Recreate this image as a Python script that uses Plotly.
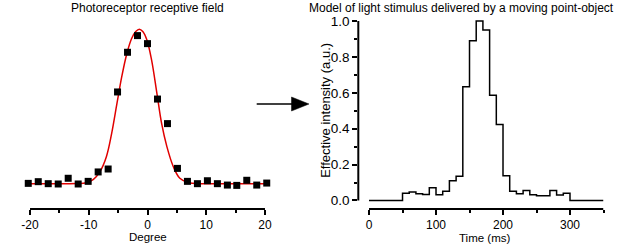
import plotly.graph_objects as go

# ---------------- data ----------------
# Left panel: photoreceptor receptive field (normalised response)
rf_degree = [-20.3, -18.6, -16.9, -15.2, -13.5, -11.8, -10.1, -8.4, -6.7, -5.1,
             -3.4, -1.7, 0.0, 1.7, 3.4, 5.1, 6.8, 8.5, 10.2, 11.9,
             13.6, 15.2, 16.9, 18.6, 20.3]
rf_response = [0.002, 0.013, 0.0, -0.002, 0.035, -0.002, 0.015, 0.076, 0.095, 0.594,
               0.851, 0.959, 0.907, 0.548, 0.389, 0.099, 0.015, 0.0, 0.019, 0.0,
               -0.009, -0.011, 0.022, -0.009, 0.004]

fit_degree = [-20.5, -15.0, -12.0, -10.4, -9.2, -8.1, -7.0, -6.1, -5.2, -4.4,
              -3.5, -2.7, -2.0, -1.4, -0.8, -0.1, 0.7, 1.6, 2.4, 3.3,
              4.4, 5.5, 7.0, 9.0, 13.0, 20.5]
fit_response = [0.0, 0.0, 0.001, 0.006, 0.028, 0.078, 0.175, 0.326, 0.52, 0.69,
                0.845, 0.94, 0.985, 1.0, 0.985, 0.93, 0.80, 0.585, 0.39, 0.24,
                0.11, 0.035, 0.006, 0.0, 0.0, 0.0]

# Right panel: modelled light stimulus (step function, bin starts in ms)
time_ms = [0, 50, 60, 70, 80, 90, 100, 110, 120, 130, 140, 150, 160, 170, 180,
           190, 200, 210, 220, 230, 240, 250, 260, 270, 280, 290, 300, 350]
intensity = [0.0, 0.040, 0.047, 0.038, 0.034, 0.071, 0.032, 0.051, 0.110, 0.135,
             0.634, 0.890, 1.000, 0.950, 0.586, 0.424, 0.138, 0.051, 0.038, 0.055,
             0.032, 0.027, 0.027, 0.055, 0.031, 0.040, 0.0, 0.0]

left_ticks = [-20, -10, 0, 10, 20]
left_minor = [-15, -5, 5, 15]
right_xticks = [0, 100, 200, 300]
right_xminor = [50, 150, 250, 350]
right_yticks = [0.0, 0.2, 0.4, 0.6, 0.8, 1.0]
right_yminor = [0.1, 0.3, 0.5, 0.7, 0.9]

# ---------------- layout helpers ----------------
W, H = 617, 247
FONT = "Liberation Sans, Arial, sans-serif"


def px(x):
    return x / W


def py(y):
    return 1 - y / H


fig = go.Figure()

fig.add_trace(go.Scatter(x=fit_degree, y=fit_response, mode="lines",
                         line=dict(color="rgb(225,0,0)", width=1.5, shape="spline"),
                         xaxis="x", yaxis="y", showlegend=False, hoverinfo="skip"))
fig.add_trace(go.Scatter(x=rf_degree, y=rf_response, mode="markers",
                         marker=dict(symbol="square", size=7, color="black"),
                         xaxis="x", yaxis="y", showlegend=False, cliponaxis=False))
fig.add_trace(go.Scatter(x=time_ms, y=intensity, mode="lines",
                         line=dict(color="black", width=1.5, shape="hv"),
                         xaxis="x2", yaxis="y2", showlegend=False))

tickfont = dict(family=FONT, size=12, color="black")

fig.update_layout(
    width=W, height=H,
    margin=dict(l=0, r=0, t=0, b=0),
    paper_bgcolor="white", plot_bgcolor="white",
    xaxis=dict(domain=[px(26.5), px(268.5)], range=[-20.6, 20.6],
               tickvals=left_ticks, ticktext=[str(v) for v in left_ticks],
               ticks="outside", ticklen=5, tickwidth=1.6, tickcolor="black",
               showline=False, showgrid=False, zeroline=False, tickfont=tickfont,
               minor=dict(tickvals=left_minor, ticks="outside", ticklen=3,
                          tickwidth=1.6, tickcolor="black", showgrid=False),
               anchor="y", automargin=False),
    yaxis=dict(domain=[py(209), py(20)], range=[-0.164, 1.06], visible=False,
               anchor="x"),
    xaxis2=dict(domain=[px(358.3), px(603.5)], range=[-16, 350],
                tickvals=right_xticks, ticktext=[str(v) for v in right_xticks],
                ticks="outside", ticklen=5, tickwidth=1.6, tickcolor="black",
                showline=False, showgrid=False, zeroline=False, tickfont=tickfont,
                minor=dict(tickvals=right_xminor, ticks="outside", ticklen=3,
                           tickwidth=1.6, tickcolor="black", showgrid=False),
                anchor="y2", automargin=False),
    yaxis2=dict(domain=[py(209), py(20)], range=[-0.0474, 1.0056],
                tickvals=right_yticks, ticktext=["%.1f" % v for v in right_yticks],
                ticks="outside", ticklen=5, tickwidth=1.6, tickcolor="black",
                showline=False, showgrid=False, zeroline=False,
                tickfont=dict(family=FONT, size=13.5, color="black"),
                minor=dict(tickvals=right_yminor, ticks="outside", ticklen=3,
                           tickwidth=1.6, tickcolor="black", showgrid=False),
                anchor="x2", automargin=False),
)

shapes = [
    # left x axis line
    dict(type="line", xref="x", yref="y domain", x0=-20, x1=20, y0=0, y1=0,
         line=dict(color="black", width=2)),
    # right x axis line
    dict(type="line", xref="x2", yref="y2 domain", x0=0, x1=350, y0=0, y1=0,
         line=dict(color="black", width=2)),
    # right y axis line
    dict(type="line", xref="x2 domain", yref="y2", x0=0, x1=0, y0=0, y1=1.0,
         line=dict(color="black", width=2)),
    # arrow shaft
    dict(type="line", xref="paper", yref="paper", x0=px(256.7), x1=px(293),
         y0=py(104), y1=py(104), line=dict(color="black", width=1.5)),
    # arrow head
    dict(type="path", xref="paper", yref="paper",
         path="M %f,%f L %f,%f L %f,%f Z" % (px(291.5), py(97), px(309), py(104),
                                              px(291.5), py(111)),
         fillcolor="black", line=dict(color="black", width=0.5)),
]
fig.update_layout(shapes=shapes)


def label(text, x, y, size=12, angle=0):
    return dict(text=text, x=px(x), y=py(y), xref="paper", yref="paper",
                showarrow=False, xanchor="center", yanchor="middle",
                textangle=angle, font=dict(family=FONT, size=size, color="black"))


fig.update_layout(annotations=[
    label("Photoreceptor receptive field", 147.7, 7.5, 12),
    label("Degree", 148, 237, 11.5),
    label("Model of light stimulus delivered by a moving point-object", 461, 7.5, 12),
    label("Time (ms)", 484.7, 237.5, 11.5),
    label("Effective intensity (a.u.)", 326, 110.8, 13, -90),
])

fig.write_html("out.html", config={"displayModeBar": False},
               post_script="document.body.style.margin='0px';"
                           "document.body.style.overflow='hidden';")
